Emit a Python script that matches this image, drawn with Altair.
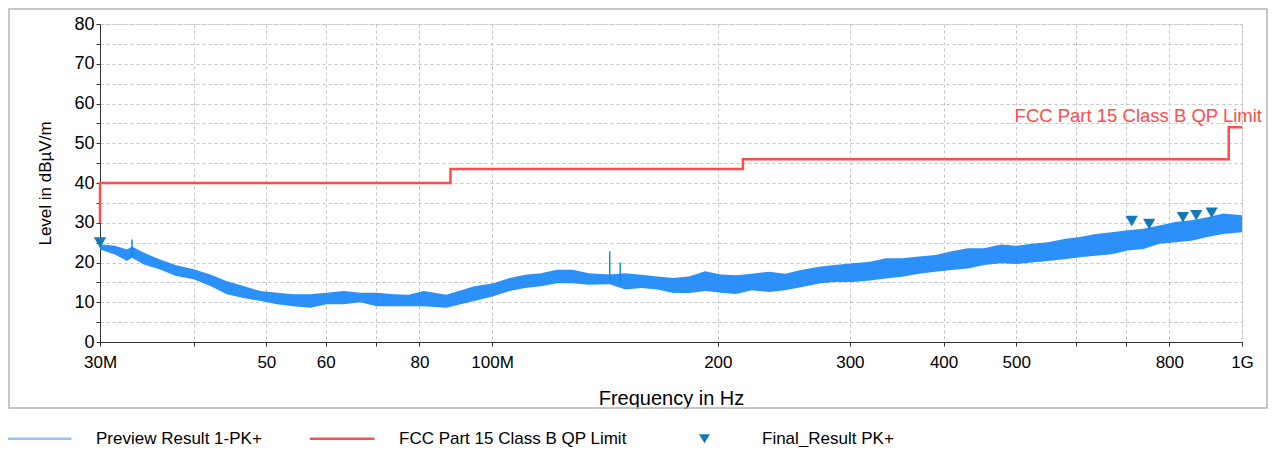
import altair as alt
import pandas as pd

# ---------------- data ----------------
# Preview Result 1-PK+ : envelope of the noisy trace (MHz, dBµV/m)
freq_mhz = [30, 31.4, 32.6, 33.1, 34.3, 36.0, 37.9, 40, 42.1, 44.3,
            46.6, 49.1, 51.7, 54.3, 57.2, 60.2, 63.4, 66.7, 70.2, 73.9,
            77.4, 81.1, 86.9, 90.2, 94.7, 100.4, 105.5, 110.7, 116.2, 122,
            128.1, 134.5, 143.5, 150.6, 158.1, 166.1, 174.4, 183.1, 192.3, 201.9,
            211.5, 222, 234, 246, 258, 273, 286, 303, 319, 335,
            352, 371, 390, 410, 431, 453, 477, 500, 525, 551,
            579, 608, 638, 670, 704, 739, 776, 815, 856, 899,
            944, 1000]
level_lo = [23.3, 22.0, 20.4, 21.2, 19.5, 18.3, 16.6, 15.8, 14.1, 12.0,
            11.1, 10.3, 9.5, 9.0, 8.6, 9.5, 9.5, 10.0, 9.0, 9.0,
            9.0, 9.0, 8.6, 9.4, 10.3, 11.5, 12.8, 13.6, 14.0, 14.8,
            14.8, 14.4, 14.5, 13.2, 13.6, 13.2, 12.3, 12.3, 12.8, 12.4,
            12.1, 13.0, 12.6, 13.0, 13.8, 14.7, 15.1, 15.1, 15.5, 16.0,
            16.4, 17.2, 17.7, 18.1, 18.5, 19.4, 19.8, 19.6, 20.0, 20.4,
            20.8, 21.3, 21.7, 22.1, 23.0, 23.4, 24.7, 25.1, 25.5, 26.4,
            27.2, 27.6]
level_hi = [24.6, 24.2, 23.3, 24.0, 22.5, 20.8, 19.3, 18.3, 17.0, 15.3,
            14.1, 12.8, 12.4, 12.0, 12.0, 12.4, 12.8, 12.4, 12.4, 12.0,
            11.9, 12.8, 11.9, 12.8, 14.0, 14.8, 16.1, 16.9, 17.3, 18.2,
            18.2, 17.3, 17.0, 17.3, 16.9, 16.5, 16.1, 16.5, 17.8, 17.0,
            16.8, 17.2, 17.7, 17.2, 18.1, 18.9, 19.4, 19.8, 20.2, 21.1,
            21.1, 21.5, 21.9, 22.8, 23.6, 23.6, 24.5, 24.2, 24.7, 25.1,
            25.9, 26.4, 27.2, 27.6, 28.1, 28.5, 29.3, 30.2, 30.6, 31.4,
            32.3, 31.9]

# isolated spikes of the preview trace
spike_freq = [33.1, 143.5, 148.2]
spike_lo = [21.5, 15.5, 15.0]
spike_hi = [25.8, 22.8, 20.0]

# FCC Part 15 Class B QP Limit (step line)
limit_freq = [30, 30, 88, 88, 216, 216, 960, 960, 1000]
limit_level = [30, 40, 40, 43.5, 43.5, 46, 46, 54, 54]
limit_label = "FCC Part 15 Class B QP Limit"

# Final_Result PK+ markers
final_freq = [30, 712.7, 752, 834, 869, 911]
final_level = [25.0, 30.4, 29.7, 31.4, 31.9, 32.5]

# axes
x_tick_values = [30, 40, 50, 60, 70, 80, 100, 200, 300, 400, 500, 600, 700, 800, 1000]
x_tick_labels = ["30M", "", "50", "60", "", "80", "100M", "200", "300", "400", "500", "", "", "800", "1G"]
y_tick_values = list(range(0, 85, 5))

# legend
legend_names = ["Preview Result 1-PK+", "FCC Part 15 Class B QP Limit", "Final_Result PK+"]
legend_colors = ["#8cc6f5", "#ff4b4b", "#1479b8"]
# custom symbol paths (unit = sqrt(symbolSize)/2): long strokes and a down triangle
legend_shapes = ["M-2.0,-0.24H10.3V0.24H-2.0Z",
                 "M-2.0,-0.24H10.3V0.24H-2.0Z",
                 "M2.95,-0.85H5.05L4.0,0.85Z"]

# ---------------- styling ----------------
FONT = "Liberation Sans"
TRACE = "#1484f6"
RED = "#ff4b4b"
MARK = "#1479b8"

W, H = 1142, 318

label_expr = ""
for v, l in zip(x_tick_values, x_tick_labels):
    label_expr += f"datum.value == {v} ? '{l}' : "
label_expr += "''"

xscale = alt.Scale(type="log", domain=[30, 1000], nice=False)
yscale = alt.Scale(domain=[0, 80], nice=False)

x_axis = alt.Axis(
    title="Frequency in Hz", values=x_tick_values, labelExpr=label_expr,
    grid=True, gridDash=[3, 3], gridColor="#c4c4c4",
    domainColor="#333333", tickColor="#333333", tickSize=4,
    labelFont=FONT, labelFontSize=17, labelColor="#000000", labelPadding=8,
    labelOverlap=False, labelFlush=False,
    titleFont=FONT, titleFontSize=20, titleFontWeight="normal", titleColor="#000000",
    titlePadding=18,
)
y_axis = alt.Axis(
    title="Level in dBµV/m", values=y_tick_values,
    labelExpr="datum.value % 10 == 0 ? datum.label : ''",
    grid=True, gridDash=[3, 3], gridColor="#c4c4c4",
    domainColor="#333333", tickColor="#333333", tickSize=4,
    labelFont=FONT, labelFontSize=18, labelColor="#000000", labelPadding=2,
    labelOverlap=False, labelFlush=False,
    titleFont=FONT, titleFontSize=17, titleFontWeight="normal", titleColor="#000000",
    titlePadding=19,
)


def X(field):
    return alt.X(field, scale=xscale, axis=x_axis, title="Frequency in Hz")


def Y(field):
    return alt.Y(field, scale=yscale, axis=y_axis, title="Level in dBµV/m")


trace_df = pd.DataFrame({"f": freq_mhz, "lo": level_lo, "hi": level_hi})
spike_df = pd.DataFrame({"f": spike_freq, "lo": spike_lo, "hi": spike_hi})
limit_df = pd.DataFrame({"f": limit_freq, "lo": limit_level, "i": list(range(len(limit_freq)))})
final_df = pd.DataFrame({"f": final_freq, "lo": final_level})
label_df = pd.DataFrame({"f": [limit_freq[-1]], "lo": [limit_level[-1]], "t": [limit_label]})
legend_df = pd.DataFrame({"series": legend_names})

# frame around the whole chart (decorative)
frame = alt.Chart(pd.DataFrame({"a": [0]})).mark_rect(
    fill=None, stroke="#b4b4b4", strokeWidth=1.5
).encode(
    x=alt.value(-91), x2=alt.value(1167), y=alt.value(-15), y2=alt.value(384)
)

band = alt.Chart(trace_df).mark_area(color=TRACE, opacity=0.9, line=False).encode(
    x=X("f:Q"), y=Y("lo:Q"), y2="hi:Q",
)
spikes = alt.Chart(spike_df).mark_rule(color=TRACE, strokeWidth=1.5).encode(
    x=X("f:Q"), y=Y("lo:Q"), y2="hi:Q"
)
limit = alt.Chart(limit_df).mark_line(color=RED, strokeWidth=2.5).encode(
    x=X("f:Q"), y=Y("lo:Q"), order="i:Q"
)
limit_text = alt.Chart(label_df).mark_text(
    align="right", baseline="alphabetic", dx=20, dy=-5,
    font=FONT, fontSize=18.5, color=RED
).encode(x=X("f:Q"), y=Y("lo:Q"), text="t:N")
finals = alt.Chart(final_df).mark_point(
    shape="triangle-down", filled=True, color=MARK, size=150, opacity=1
).encode(x=X("f:Q"), y=Y("lo:Q"))

legend = alt.Legend(
    title=None, orient="none", legendX=-91, legendY=406, direction="horizontal",
    labelFont=FONT, labelFontSize=17, labelColor="#000000", labelLimit=400,
    labelOffset=70, columnPadding=48, symbolSize=110, symbolStrokeWidth=0,
    symbolOpacity=1, padding=0,
)
legend_layer = alt.Chart(legend_df).mark_point(filled=True, opacity=0).encode(
    color=alt.Color("series:N", scale=alt.Scale(domain=legend_names, range=legend_colors), legend=legend),
    shape=alt.Shape("series:N", scale=alt.Scale(domain=legend_names, range=legend_shapes), legend=legend),
)

chart = alt.layer(frame, band, spikes, limit, limit_text, finals, legend_layer).properties(
    width=W, height=H,
    autosize=alt.AutoSizeParams(type="none"),
    padding={"left": 92, "top": 16, "right": 30, "bottom": 105},
).configure_view(stroke=None).configure(font=FONT, background="white")

chart.save("out.html", embed_options={"renderer": "svg", "actions": False})
